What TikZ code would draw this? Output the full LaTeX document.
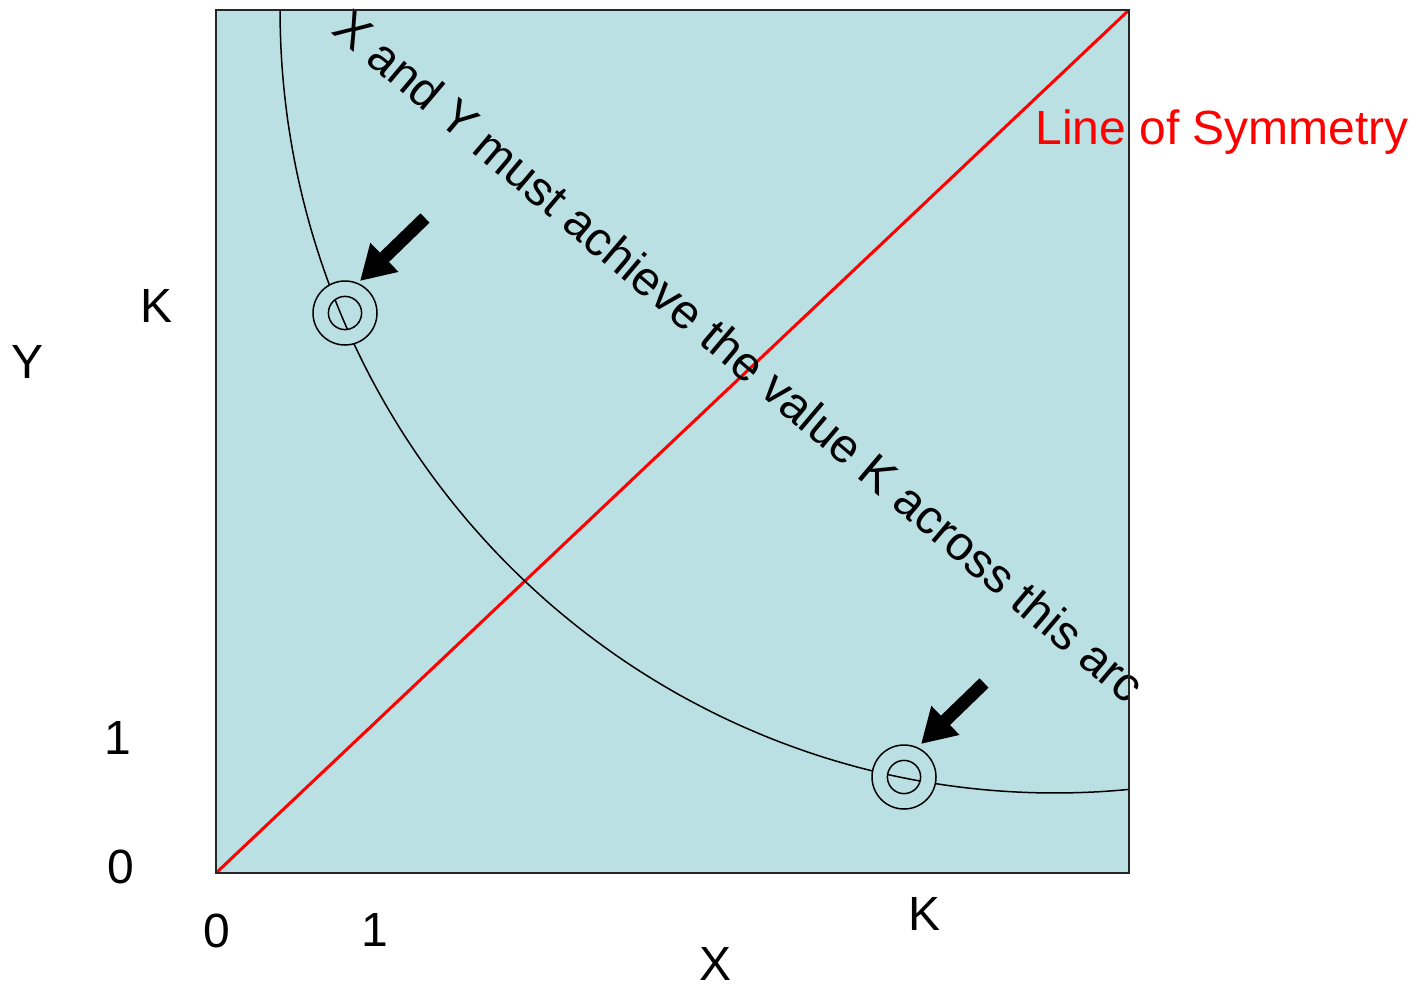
\documentclass[tikz,border=0pt]{standalone}
\usepackage{fontspec}
\setmainfont{Liberation Sans}
\usetikzlibrary{arrows.meta}
\definecolor{panelbg}{HTML}{BBE0E3}
\definecolor{symred}{HTML}{FF0000}
\tikzset{
  lbl/.style={font=\fontsize{24pt}{28pt}\selectfont, inner sep=0pt, anchor=base},
  blockarrow/.style={line width=6.5pt, -{Triangle[length=17pt,width=19pt]}},
  ringline/.style={line width=0.75pt},
}
\begin{document}
\begin{tikzpicture}[x=0.5pt,y=-0.5pt]
\useasboundingbox (0,0) rectangle (1416,984);
% panel
\fill[panelbg] (216,10) rectangle (1129,873);
% line of symmetry
\coordinate (o) at (216,873);
\coordinate (tr) at (1129,10);
\draw[symred, line width=1.5pt] (o) -- (tr);
% arc
\draw[line width=0.75pt] plot[domain=180:275.48, samples=120, smooth] ({1055+775*cos(\x)}, {10-783*sin(\x)});
% rings
\coordinate (c1) at (345,313);
\coordinate (c2) at (904,777);
\foreach \c in {c1,c2}{
  \fill[panelbg, even odd rule] (\c) circle[radius=16pt] (\c) circle[radius=8.3pt];
  \draw[ringline] (\c) circle[radius=16pt];
  \draw[ringline] (\c) circle[radius=8.3pt];
}
% arrows
\coordinate (a1s) at (425,218);
\coordinate (a1e) at (360,281);
\coordinate (a2s) at (984,683);
\coordinate (a2e) at (921,744);
\draw[blockarrow] (a1s) -- (a1e);
\draw[blockarrow] (a2s) -- (a2e);
% texts
\node[lbl, anchor=base west, rotate=-40.2] (arctext) at (330,32) {X and Y must achieve the value K across this arc};
\node[lbl, anchor=base west, text=symred] (sym) at (1035,145) {Line of Symmetry};
\node[lbl] (ky) at (157,322) {K};
\node[lbl] (ylab) at (28,378) {Y};
\node[lbl] (y1) at (118,754) {1};
\node[lbl] (y0) at (121,883) {0};
\node[lbl] (x0) at (217,947) {0};
\node[lbl] (x1) at (375,946) {1};
\node[lbl] (kx) at (924,930) {K};
\node[lbl] (xlab) at (715,980) {X};
% border
\draw[line width=0.75pt, black!85] (216,10) rectangle (1129,873);
\end{tikzpicture}
\end{document}
